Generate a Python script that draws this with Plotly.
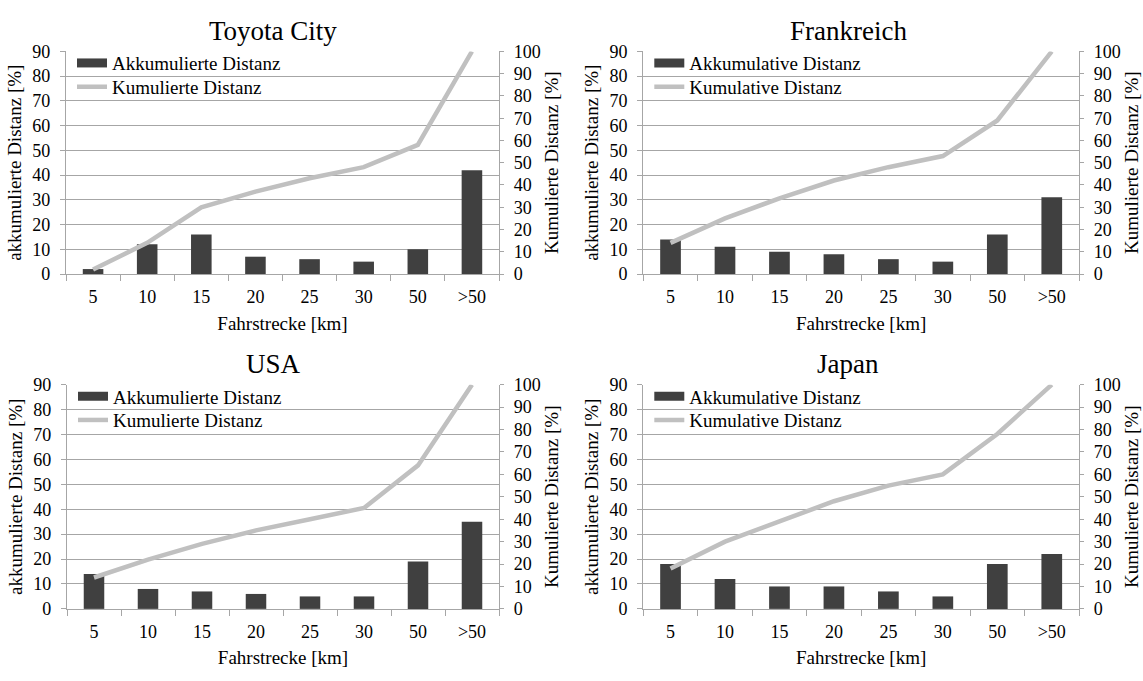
import plotly.graph_objects as go

# ---------------- data ----------------
categories = ["5", "10", "15", "20", "25", "30", "50", ">50"]

panel_titles = ["Toyota City", "Frankreich", "USA", "Japan"]
bar_names = ["Akkumulierte Distanz", "Akkumulative Distanz",
             "Akkumulierte Distanz", "Akkumulative Distanz"]
line_names = ["Kumulierte Distanz", "Kumulative Distanz",
              "Kumulierte Distanz", "Kumulative Distanz"]

toyota_share = [2, 12, 16, 7, 6, 5, 10, 42]
toyota_cum = [2, 14, 30, 37, 43, 48, 58, 100]
france_share = [14, 11, 9, 8, 6, 5, 16, 31]
france_cum = [14, 25, 34, 42, 48, 53, 69, 100]
usa_share = [14, 8, 7, 6, 5, 5, 19, 35]
usa_cum = [14, 22, 29, 35, 40, 45, 64, 100]
japan_share = [18, 12, 9, 9, 7, 5, 18, 22]
japan_cum = [18, 30, 39, 48, 55, 60, 78, 100]

x_title = "Fahrstrecke [km]"
y_left_title = "akkumulierte Distanz [%]"
y_right_title = "Kumulierte Distanz [%]"

shares = [toyota_share, france_share, usa_share, japan_share]
cums = [toyota_cum, france_cum, usa_cum, japan_cum]

# ---------------- style ----------------
W, H = 1143, 681
FONT = "Liberation Serif"
BAR_COLOR = "#404040"
LINE_COLOR = "#C0C0C0"
GRID_COLOR = "#A6A6A6"
AXIS_COLOR = "#A6A6A6"

# pixel boxes of plot areas: (left, right, top, bottom)
boxes = [(66, 499, 42.7, 272), (643.3, 1079, 42.7, 272),
         (67, 499, 386, 617), (643.3, 1079, 386, 617)]
title_pos = [(272.7, 21.7), (848.5, 21.7), (273.5, 365), (848.4, 365)]
legend_rows = (12, 36.5)   # row centres below plot top, px


def px_x(v):
    return v / W


def px_y(v):
    return 1 - v / H


fig = go.Figure()
layout = dict(
    width=W, height=H,
    margin=dict(l=0, r=0, t=0, b=0),
    paper_bgcolor="white", plot_bgcolor="white",
    font=dict(family=FONT, size=18, color="black"),
    showlegend=True,
    annotations=[],
)


def leg_key(n):
    return "legend" if n == 1 else f"legend{n}"


for i in range(4):
    left, right, top, bottom = boxes[i]
    xname = "x" if i == 0 else f"x{i + 1}"
    yl = f"y{2 * i + 1}" if i > 0 else "y"
    yr = f"y{2 * i + 2}"
    leg_bar = leg_key(2 * i + 1)
    leg_line = leg_key(2 * i + 2)

    fig.add_trace(go.Bar(
        x=categories, y=shares[i], name=bar_names[i],
        marker=dict(color=BAR_COLOR, line=dict(width=0)),
        width=0.38, xaxis=xname, yaxis=yl, showlegend=False,
        legend=leg_bar,
    ))
    # legend swatch for the bar series (wide flat rectangle)
    fig.add_trace(go.Scatter(
        x=[categories[0]], y=[None], mode="lines", name=bar_names[i],
        line=dict(color=BAR_COLOR, width=9),
        xaxis=xname, yaxis=yl, legend=leg_bar, hoverinfo="skip",
    ))
    fig.add_trace(go.Scatter(
        x=categories, y=cums[i], mode="lines", name=line_names[i],
        line=dict(color=LINE_COLOR, width=4.5),
        xaxis=xname, yaxis=yr, legend=leg_line,
    ))

    xkey = "xaxis" if i == 0 else f"xaxis{i + 1}"
    ylkey = "yaxis" if i == 0 else f"yaxis{2 * i + 1}"
    yrkey = f"yaxis{2 * i + 2}"

    layout[xkey] = dict(
        domain=[px_x(left), px_x(right)], anchor=yl,
        type="category", range=[-0.5, 7.5],
        showgrid=False, showline=True, linecolor=AXIS_COLOR, linewidth=1.3,
        ticks="outside", tickson="boundaries", ticklen=6, tickcolor=AXIS_COLOR,
        ticklabelstandoff=6,
        tickfont=dict(size=18),
        title=dict(text=x_title, font=dict(size=19), standoff=10),
        zeroline=False, fixedrange=True,
    )
    layout[ylkey] = dict(
        domain=[px_y(bottom), px_y(top)], anchor=xname,
        range=[0, 90], dtick=10, tick0=0,
        showgrid=True, gridcolor=GRID_COLOR, gridwidth=1.3,
        showline=True, linecolor=AXIS_COLOR, linewidth=1.3,
        ticks="outside", ticklen=5, tickcolor=AXIS_COLOR,
        ticklabelstandoff=6,
        tickfont=dict(size=18),
        title=dict(text=y_left_title, font=dict(size=19), standoff=5),
        zeroline=False, fixedrange=True,
    )
    layout[yrkey] = dict(
        domain=[px_y(bottom), px_y(top)], anchor=xname, overlaying=yl,
        side="right",
        range=[0, 100], dtick=10, tick0=0,
        showgrid=False,
        showline=True, linecolor=AXIS_COLOR, linewidth=1.3,
        ticks="outside", ticklen=4, tickcolor=AXIS_COLOR,
        ticklabelstandoff=6,
        tickfont=dict(size=18),
        title=dict(text=y_right_title, font=dict(size=19), standoff=4),
        zeroline=False, fixedrange=True,
    )
    for key, row in ((leg_bar, legend_rows[0]), (leg_line, legend_rows[1])):
        layout[key] = dict(
            x=px_x(left + 6), y=px_y(top + row),
            xanchor="left", yanchor="middle",
            xref="paper", yref="paper",
            bgcolor="rgba(0,0,0,0)", borderwidth=0,
            font=dict(family=FONT, size=19, color="black"),
            tracegroupgap=0, itemwidth=30, itemclick=False,
        )
    tx, ty = title_pos[i]
    layout["annotations"].append(dict(
        text=panel_titles[i], x=px_x(tx), y=px_y(ty),
        xref="paper", yref="paper", xanchor="center", yanchor="middle",
        showarrow=False, font=dict(family=FONT, size=27, color="black"),
    ))

fig.update_layout(**layout)
fig.write_html("out.html")
